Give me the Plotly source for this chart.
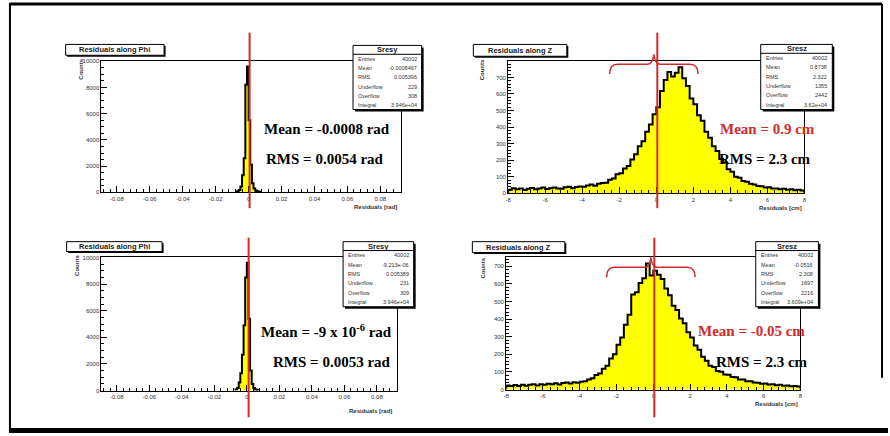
import numpy as np
import plotly.graph_objects as go

W, H = 890, 436

# ---------------- data ----------------
phi_lo, phi_bin = -0.007, 0.001
phi_top_counts = [80, 180, 450, 1300, 2600, 8200, 9600, 5500, 2100, 700, 300, 150, 80, 40]
phi_bot_counts = [80, 200, 600, 1300, 2700, 4900, 8500, 9600, 5400, 1500, 500, 200, 90, 40]

z_lo, z_bin = -8.0, 0.2
z_top_counts = [22, 31, 24, 29, 20, 27, 33, 25, 30, 35, 26, 31, 36, 30, 28, 37, 40, 31, 38, 42,
                40, 47, 53, 46, 58, 62, 64, 82, 90, 115, 122, 150, 165, 205, 236,
                285, 315, 372, 415, 478, 520, 618, 684, 732, 705, 728, 762, 695, 648, 572,
                538, 472, 438, 372, 336, 284, 256, 208, 186, 146, 130, 100, 94, 74, 70,
                58, 54, 44, 43, 36, 37, 29, 30, 24, 27, 22, 24, 19, 22, 17]
z_bot_counts = [24, 21, 26, 20, 28, 22, 27, 30, 23, 31, 28, 33, 30, 36, 29, 37, 40, 34, 42, 39,
                45, 47, 58, 65, 83, 92, 118, 136, 176, 200, 255, 295, 368, 425, 540,
                552, 605, 632, 715, 648, 675, 652, 628, 574, 536, 476, 452, 404, 376, 326,
                296, 250, 226, 186, 164, 136, 128, 106, 102, 86, 84, 72, 70, 58, 57,
                48, 47, 40, 39, 33, 34, 29, 30, 25, 27, 22, 24, 19, 21, 17]

phi_tickvals = [-0.08, -0.06, -0.04, -0.02, 0, 0.02, 0.04, 0.06, 0.08]
phi_ticktext = ["-0.08", "-0.06", "-0.04", "-0.02", "0", "0.02", "0.04", "0.06", "0.08"]
z_tickvals = [-8, -6, -4, -2, 0, 2, 4, 6, 8]
z_ticktext = ["-8", "-6", "-4", "-2", "0", "2", "4", "6", "8"]
phi_ytickvals = [0, 2000, 4000, 6000, 8000, 10000]
phi_yticktext = ["0", "2000", "4000", "6000", "8000", "10000"]
z_ytickvals = [0, 100, 200, 300, 400, 500, 600, 700]
z_yticktext = ["0", "100", "200", "300", "400", "500", "600", "700"]

stats_labels = ["Entries", "Mean", "RMS", "Underflow", "Overflow", "Integral"]
stats_tl = ["40002", "-0.0008467", "0.005396", "229", "308", "3.946e+04"]
stats_tr = ["40002", "0.8738", "2.322", "1355", "2442", "3.62e+04"]
stats_bl = ["40002", "-9.213e-06", "0.005389", "231", "309", "3.946e+04"]
stats_br = ["40002", "-0.0516", "2.308", "1697", "2216", "3.609e+04"]

# ---------------- helpers ----------------
def px(x):
    return x / W

def py(y):
    return 1 - y / H

RED = "#d42a2a"
fig = go.Figure()
shapes = []
annots = []

def step_trace(lo, width, counts, xa, ya):
    edges = lo + width * np.arange(len(counts) + 1)
    xs = [edges[0]] + list(edges[:-1]) + [edges[-1], edges[-1]]
    ys = [0] + list(counts) + [counts[-1], 0]
    return go.Scatter(x=xs, y=ys, mode="lines", line=dict(shape="hv", color="black", width=2),
                      fill="tozeroy", fillcolor="#ffff00", xaxis=xa, yaxis=ya,
                      hoverinfo="skip", showlegend=False)

panels = [
    dict(ax="", frame=(99, 59, 400, 192), xr=[-0.0894, 0.0924], yr=[0, 10000],
         xt=(phi_tickvals, phi_ticktext), yt=(phi_ytickvals, phi_yticktext), xminor=0.004, yminor=500,
         lo=phi_lo, w=phi_bin, counts=phi_top_counts,
         title="Residuals along Phi", tbox=(63, 42, 162, 53),
         sname="Sresy", sbox=(352, 43, 421, 108), svals=stats_tl,
         counts_pos=(79, 67), xtitle="Residuals [rad]", xtitle_pos=(398, 207),
         redx=248, redy=(30, 208), brace=None,
         mean=("Mean = -0.0008 rad", 326, 128, "black"), rms=("RMS = 0.0054 rad", 324, 158)),
    dict(ax="2", frame=(508, 59, 806, 193), xr=[-8, 8], yr=[0, 798],
         xt=(z_tickvals, z_ticktext), yt=(z_ytickvals, z_yticktext), xminor=0.4, yminor=20,
         lo=z_lo, w=z_bin, counts=z_top_counts,
         title="Residuals along Z", tbox=(473, 42, 567, 54),
         sname="Sresz", sbox=(762, 42, 834, 108), svals=stats_tr,
         counts_pos=(482, 68), xtitle="Residuals [cm]", xtitle_pos=(806, 208),
         redx=658, redy=(30, 208), brace=(610, 699, 62, 72, 52),
         mean=("Mean = 0.9 cm", 769, 128, RED), rms=("RMS = 2.3 cm", 766, 158)),
    dict(ax="3", frame=(99, 258, 396, 393), xr=[-0.0894, 0.0922], yr=[0, 10000],
         xt=(phi_tickvals, phi_ticktext), yt=(phi_ytickvals, phi_yticktext), xminor=0.004, yminor=500,
         lo=phi_lo, w=phi_bin, counts=phi_bot_counts,
         title="Residuals along Phi", tbox=(64, 242, 160, 252),
         sname="Sresy", sbox=(342, 242, 413, 308), svals=stats_bl,
         counts_pos=(75, 266), xtitle="Residuals [rad]", xtitle_pos=(393, 414),
         redx=247, redy=(238, 420), brace=None,
         mean=("Mean = -9 x 10<sup>-6</sup> rad", 325, 333, "black"), rms=("RMS = 0.0053 rad", 331, 364)),
    dict(ax="4", frame=(506, 258, 802, 392), xr=[-8, 8], yr=[0, 750],
         xt=(z_tickvals, z_ticktext), yt=(z_ytickvals, z_yticktext), xminor=0.4, yminor=20,
         lo=z_lo, w=z_bin, counts=z_bot_counts,
         title="Residuals along Z", tbox=(472, 242, 565, 253),
         sname="Sresz", sbox=(757, 242, 820, 308), svals=stats_br,
         counts_pos=(483, 269), xtitle="Residuals [cm]", xtitle_pos=(802, 407),
         redx=655, redy=(238, 420), brace=(607, 696, 268, 278, 258),
         mean=("Mean = -0.05 cm", 753, 333, RED), rms=("RMS = 2.3 cm", 763, 364)),
]

tickfont = dict(family="Liberation Sans", size=6, color="#333")
layout_axes = {}
for p in panels:
    a = p["ax"]
    x0, y0, x1, y1 = p["frame"]
    xa, ya = "x" + a, "y" + a
    fig.add_trace(step_trace(p["lo"], p["w"], p["counts"], xa, ya))
    layout_axes["xaxis" + a] = dict(
        domain=[px(x0), px(x1)], range=p["xr"], anchor=ya, showgrid=False, zeroline=False,
        showline=True, linecolor="black", linewidth=1, mirror=True,
        tickmode="array", tickvals=p["xt"][0], ticktext=p["xt"][1],
        ticks="inside", ticklen=6, tickcolor="black", tickfont=tickfont,
        minor=dict(tickmode="linear", tick0=0, dtick=p["xminor"], ticks="inside", ticklen=3,
                   tickcolor="black", showgrid=False))
    layout_axes["yaxis" + a] = dict(
        domain=[py(y1), py(y0)], range=p["yr"], anchor=xa, showgrid=False, zeroline=False,
        showline=True, linecolor="black", linewidth=1, mirror=True,
        tickmode="array", tickvals=p["yt"][0], ticktext=p["yt"][1],
        ticks="inside", ticklen=6, tickcolor="black", tickfont=tickfont,
        minor=dict(tickmode="linear", tick0=0, dtick=p["yminor"], ticks="inside", ticklen=3,
                   tickcolor="black", showgrid=False))

    # red vertical line
    shapes.append(dict(type="line", xref="paper", yref="paper", x0=px(p["redx"]), x1=px(p["redx"]),
                       y0=py(p["redy"][0]), y1=py(p["redy"][1]), line=dict(color=RED, width=2)))
    # brace
    if p["brace"]:
        bx0, bx1, by, bend, btip = p["brace"]
        bm = (bx0 + bx1) / 2
        pts = [
            f"M {px(bx0)},{py(bend)}",
            f"Q {px(bx0)},{py(by)} {px(bx0 + 8)},{py(by)}",
            f"L {px(bm - 6)},{py(by)}",
            f"Q {px(bm - 1)},{py(by)} {px(bm)},{py(btip)}",
            f"Q {px(bm + 1)},{py(by)} {px(bm + 6)},{py(by)}",
            f"L {px(bx1 - 8)},{py(by)}",
            f"Q {px(bx1)},{py(by)} {px(bx1)},{py(bend)}",
        ]
        shapes.append(dict(type="path", xref="paper", yref="paper", path=" ".join(pts),
                           line=dict(color=RED, width=1.5)))

    # title box with shadow
    tx0, ty0, tx1, ty1 = p["tbox"]
    shapes.append(dict(type="rect", xref="paper", yref="paper", x0=px(tx0 + 1.5), x1=px(tx1 + 1.5),
                       y0=py(ty1 + 1.5), y1=py(ty0 + 1.5), fillcolor="black", line=dict(width=0)))
    shapes.append(dict(type="rect", xref="paper", yref="paper", x0=px(tx0), x1=px(tx1),
                       y0=py(ty1), y1=py(ty0), fillcolor="white", line=dict(color="black", width=1)))
    annots.append(dict(xref="paper", yref="paper", x=px((tx0 + tx1) / 2), y=py((ty0 + ty1) / 2),
                       text="<b>" + p["title"] + "</b>", showarrow=False, xanchor="center", yanchor="middle",
                       font=dict(family="Liberation Sans", size=7.5, color="#222")))

    # stats box
    sx0, sy0, sx1, sy1 = p["sbox"]
    shapes.append(dict(type="rect", xref="paper", yref="paper", x0=px(sx0 + 2), x1=px(sx1 + 2),
                       y0=py(sy1 + 2), y1=py(sy0 + 2), fillcolor="black", line=dict(width=0)))
    shapes.append(dict(type="rect", xref="paper", yref="paper", x0=px(sx0), x1=px(sx1),
                       y0=py(sy1), y1=py(sy0), fillcolor="white", line=dict(color="black", width=1)))
    shapes.append(dict(type="line", xref="paper", yref="paper", x0=px(sx0), x1=px(sx1),
                       y0=py(sy0 + 9), y1=py(sy0 + 9), line=dict(color="black", width=1)))
    annots.append(dict(xref="paper", yref="paper", x=px((sx0 + sx1) / 2), y=py(sy0 + 4.5),
                       text="<b>" + p["sname"] + "</b>", showarrow=False, xanchor="center", yanchor="middle",
                       font=dict(family="Liberation Sans", size=7.5, color="#222")))
    rowh = (sy1 - sy0 - 9) / 6
    for i, (lab, val) in enumerate(zip(stats_labels, p["svals"])):
        yy = sy0 + 9 + rowh * (i + 0.5)
        annots.append(dict(xref="paper", yref="paper", x=px(sx0 + 3), y=py(yy), text=lab,
                           showarrow=False, xanchor="left", yanchor="middle",
                           font=dict(family="Liberation Sans", size=5.5, color="#333")))
        annots.append(dict(xref="paper", yref="paper", x=px(sx1 - 3), y=py(yy), text=val,
                           showarrow=False, xanchor="right", yanchor="middle",
                           font=dict(family="Liberation Sans", size=5.5, color="#333")))

    # axis titles
    annots.append(dict(xref="paper", yref="paper", x=px(p["counts_pos"][0]), y=py(p["counts_pos"][1]),
                       text="<b>Counts</b>", textangle=-90, showarrow=False, xanchor="center",
                       yanchor="middle", font=dict(family="Liberation Sans", size=6, color="#333")))
    annots.append(dict(xref="paper", yref="paper", x=px(p["xtitle_pos"][0]), y=py(p["xtitle_pos"][1]),
                       text="<b>" + p["xtitle"] + "</b>", showarrow=False, xanchor="right",
                       yanchor="middle", font=dict(family="Liberation Sans", size=6, color="#333")))

    # big annotations
    mt, mx, my, mc = p["mean"]
    annots.append(dict(xref="paper", yref="paper", x=px(mx), y=py(my), text="<b>" + mt + "</b>",
                       showarrow=False, xanchor="center", yanchor="middle",
                       font=dict(family="Liberation Serif", size=15, color=mc)))
    rt, rx, ry = p["rms"]
    annots.append(dict(xref="paper", yref="paper", x=px(rx), y=py(ry), text="<b>" + rt + "</b>",
                       showarrow=False, xanchor="center", yanchor="middle",
                       font=dict(family="Liberation Serif", size=15, color="black")))

# outer border
shapes.append(dict(type="line", xref="paper", yref="paper", x0=px(7), x1=px(7), y0=0, y1=1,
                   line=dict(color="black", width=2)))
shapes.append(dict(type="line", xref="paper", yref="paper", x0=px(7), x1=px(884), y0=py(1), y1=py(1),
                   line=dict(color="black", width=3)))
shapes.append(dict(type="line", xref="paper", yref="paper", x0=px(7), x1=1, y0=py(433.5), y1=py(433.5),
                   line=dict(color="black", width=5)))
shapes.append(dict(type="line", xref="paper", yref="paper", x0=px(884), x1=px(884), y0=py(1), y1=py(380),
                   line=dict(color="black", width=2)))

fig.update_layout(width=W, height=H, margin=dict(l=0, r=0, t=0, b=0),
                  paper_bgcolor="white", plot_bgcolor="white",
                  shapes=shapes, annotations=annots, showlegend=False, **layout_axes)
fig.write_html("out.html")
